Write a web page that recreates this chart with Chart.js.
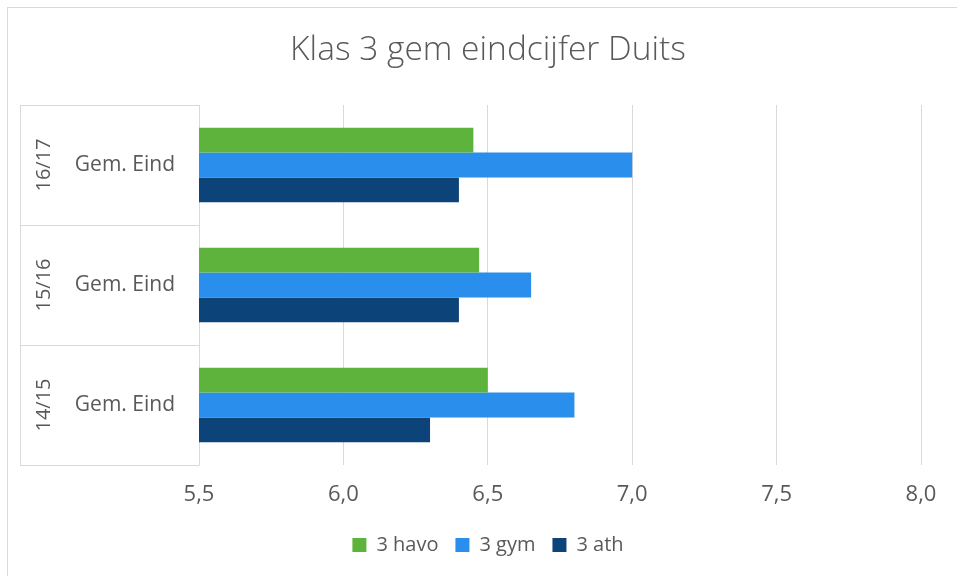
<!DOCTYPE html>
<html>
<head>
<meta charset="utf-8">
<script src="https://cdn.jsdelivr.net/npm/chart.js@4"></script>
<style>
  html, body { margin: 0; padding: 0; background: #fff; overflow: hidden; width: 957px; height: 576px; }
  .kader { position: absolute; left: 7px; top: 7px; width: 990px; height: 600px; border: 1px solid #d9d9d9; }
  .wrap { position: absolute; left: 8px; top: 8px; width: 960px; height: 568px; }
</style>
</head>
<body>
<div class="kader"></div>
<div class="wrap"><canvas id="grafiek"></canvas></div>
<script>
// gegevens
const schooljaren = ['16/17', '15/16', '14/15'];
const rijLabels = ['Gem. Eind', 'Gem. Eind', 'Gem. Eind'];
const havo = [6.45, 6.47, 6.50];
const gym = [7.00, 6.65, 6.80];
const ath = [6.40, 6.40, 6.30];
const xTicks = [5.5, 6.0, 6.5, 7.0, 7.5, 8.0];

Chart.defaults.font.family = "'Open Sans', sans-serif";
Chart.defaults.color = '#595959';

// lijnen rond de categorie-labels (zoals in Excel)
const kaderPlugin = {
  id: 'kader',
  afterDraw(chart) {
    const y = chart.scales.y;
    const jaar = chart.scales.yJaar;
    const ctx = chart.ctx;
    const n = rijLabels.length;
    const half = (y.bottom - y.top) / n / 2;
    const links = Math.round(jaar.left) + 0.5;
    const rechts = Math.round(y.right) + 0.5;
    ctx.save();
    ctx.strokeStyle = '#d9d9d9';
    ctx.lineWidth = 1;
    ctx.beginPath();
    for (let i = 0; i < n; i++) {
      const py = Math.round(y.getPixelForValue(i) - half) + 0.5;
      ctx.moveTo(links, py);
      ctx.lineTo(rechts, py);
    }
    const onder = Math.round(y.getPixelForValue(n - 1) + half) + 0.5;
    ctx.moveTo(links, onder);
    ctx.lineTo(rechts, onder);
    ctx.moveTo(links, Math.round(y.top));
    ctx.lineTo(links, Math.round(y.bottom) + 1);
    ctx.stroke();
    ctx.restore();
  }
};

const ctx = document.getElementById('grafiek').getContext('2d');

new Chart(ctx, {
  type: 'bar',
  plugins: [kaderPlugin],
  data: {
    labels: schooljaren,
    datasets: [
      { label: '3 havo', data: havo, backgroundColor: '#5db33c' },
      { label: '3 gym', data: gym, backgroundColor: '#2a8eec' },
      { label: '3 ath', data: ath, backgroundColor: '#0c4378' }
    ]
  },
  options: {
    indexAxis: 'y',
    responsive: true,
    maintainAspectRatio: false,
    animation: false,
    datasets: {
      bar: { categoryPercentage: 0.62, barPercentage: 1.0 }
    },
    layout: { padding: { left: 12, right: 12, top: 0, bottom: 11 } },
    scales: {
      x: {
        min: 5.5,
        max: 8,
        afterBuildTicks: (s) => { s.ticks = xTicks.map(v => ({ value: v })); },
        grid: { color: '#d9d9d9', drawTicks: false },
        border: { display: false },
        ticks: {
          font: { size: 22 },
          padding: 17,
          callback: (v) => Number(v).toFixed(1).replace('.', ',')
        },
        afterFit: (s) => { s.height = 53; }
      },
      y: {
        type: 'category',
        labels: rijLabels,
        offset: true,
        weight: 0,
        grid: { display: false, drawTicks: false, offset: true },
        border: { display: false },
        ticks: { font: { size: 21 }, padding: 24 },
        afterFit: (s) => { s.width = 125; }
      },
      yJaar: {
        type: 'category',
        labels: schooljaren,
        position: 'left',
        offset: true,
        weight: 1,
        grid: { display: false, drawTicks: false },
        border: { display: false },
        ticks: { font: { size: 20 }, minRotation: 90, maxRotation: 90, crossAlign: 'center', padding: 3 },
        afterFit: (s) => { s.width = 54; }
      },
      // lege ruimte rechts, zodat titel en legenda op het kader gecentreerd staan
      rechts: {
        type: 'linear',
        position: 'right',
        display: true,
        grid: { display: false, drawTicks: false },
        border: { display: false },
        ticks: { display: false },
        afterFit: (s) => { s.width = 35; }
      }
    },
    plugins: {
      title: {
        display: true,
        text: 'Klas 3 gem eindcijfer Duits',
        font: { size: 33.5, weight: '300' },
        color: '#595959',
        padding: { top: 22.5, bottom: 34.3 }
      },
      legend: {
        position: 'bottom',
        labels: {
          font: { size: 20 },
          boxWidth: 14,
          boxHeight: 14,
          padding: 17,
          color: '#595959'
        }
      },
      tooltip: { enabled: false }
    }
  }
});
</script>
</body>
</html>
